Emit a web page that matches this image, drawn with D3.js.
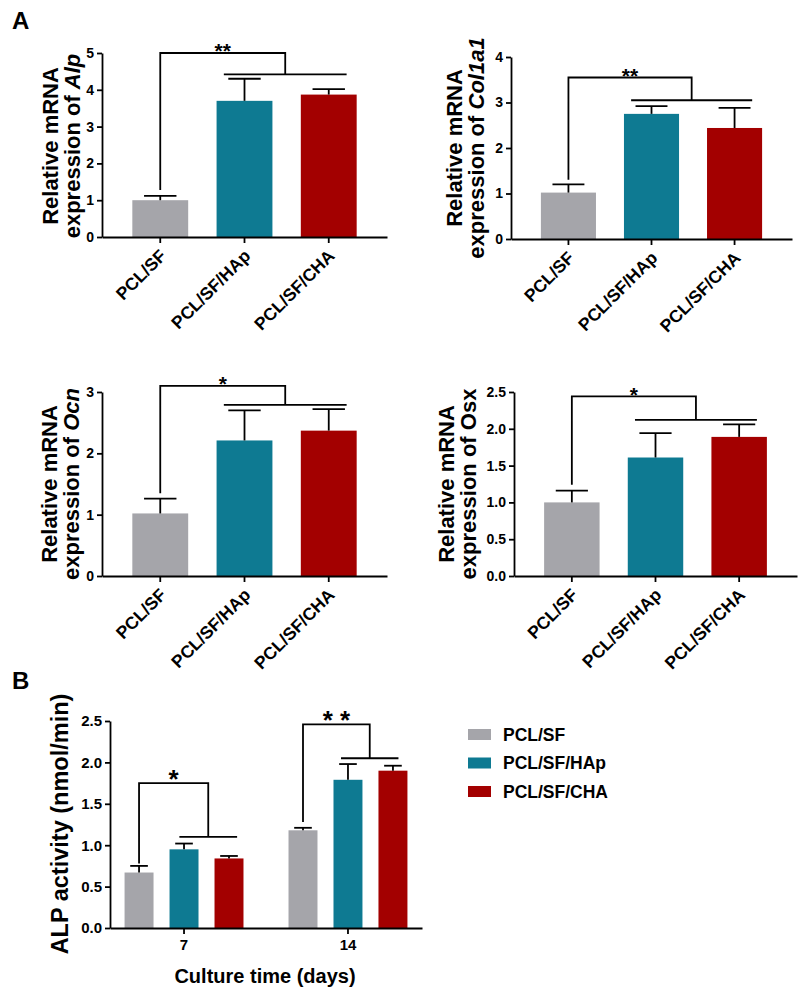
<!DOCTYPE html>
<html><head><meta charset="utf-8">
<script src="https://cdn.jsdelivr.net/npm/d3@7"></script>
<style>
body{margin:0;background:#fff}
svg{display:block}
text{font-family:"Liberation Sans",Arial,sans-serif;font-weight:bold;fill:#000}
</style>
</head><body>
<svg id="c" width="800" height="989"></svg>
<script>
// ---------- data ----------
const groups = ["PCL/SF", "PCL/SF/HAp", "PCL/SF/CHA"];
const groupColors = ["#a5a5aa", "#0e7a92", "#a30000"];

const alpMean = [1.00, 3.70, 3.87];
const alpErr = [0.12, 0.60, 0.15];
const alpTicks = [0, 1, 2, 3, 4, 5];
const alpSig = {top: 5.0, left: 1.28, low: 4.42, stars: "**"};

const col1a1Mean = [1.02, 2.75, 2.44];
const col1a1Err = [0.18, 0.17, 0.44];
const col1a1Ticks = [0, 1, 2, 3, 4];
const col1a1Sig = {top: 3.55, left: 1.30, low: 3.05, stars: "**"};

const ocnMean = [1.02, 2.21, 2.37];
const ocnErr = [0.24, 0.49, 0.35];
const ocnTicks = [0, 1, 2, 3];
const ocnSig = {top: 3.10, left: 1.35, low: 2.79, stars: "*"};

const osxMean = [1.00, 1.61, 1.89];
const osxErr = [0.16, 0.33, 0.17];
const osxTicks = [0, 0.5, 1.0, 1.5, 2.0, 2.5];
const osxSig = {top: 2.44, left: 1.24, low: 2.12, stars: "*"};

const days = ["7", "14"];
const alpDay7Mean = [0.67, 0.95, 0.84];
const alpDay7Err = [0.08, 0.07, 0.03];
const alpDay14Mean = [1.18, 1.79, 1.90];
const alpDay14Err = [0.03, 0.19, 0.06];
const activityTicks = [0, 0.5, 1.0, 1.5, 2.0, 2.5];
const day7Sig = {top: 1.75, left: 0.78, low: 1.10, stars: "*"};
const day14Sig = {top: 2.46, left: 1.28, low: 2.05, stars: "* *"};

// ---------- drawing ----------
const svg = d3.select("#c");
const LW = 1.8;

function styleAxis(g) {
  g.selectAll("path.domain").attr("stroke", "#000").attr("stroke-width", LW);
  g.selectAll(".tick line").attr("stroke", "#000").attr("stroke-width", LW);
  g.selectAll(".tick text").attr("fill", "#000");
}

function drawErr(g, cx, bw, y, m, e) {
  g.append("line").attr("x1", cx).attr("x2", cx).attr("y1", y(m)).attr("y2", y(m + e))
    .attr("stroke", "#000").attr("stroke-width", LW);
  g.append("line").attr("x1", cx - bw * 0.29).attr("x2", cx + bw * 0.29)
    .attr("y1", y(m + e)).attr("y2", y(m + e)).attr("stroke", "#000").attr("stroke-width", LW);
}

function drawSig(g, y, xg, xa, xb, sig, fs, off) {
  const xm = (xa + xb) / 2;
  const path = d3.path();
  path.moveTo(xg, y(sig.left)); path.lineTo(xg, y(sig.top));
  path.lineTo(xm, y(sig.top)); path.lineTo(xm, y(sig.low));
  path.moveTo(xa, y(sig.low)); path.lineTo(xb, y(sig.low));
  g.append("path").attr("d", path.toString()).attr("fill", "none")
    .attr("stroke", "#000").attr("stroke-width", LW);
  g.append("text").attr("x", (xg + xm) / 2).attr("y", y(sig.top) - off + 0.57 * fs)
    .attr("text-anchor", "middle").style("font-size", fs + "px").text(sig.stars);
}

function genePanel(cfg) {
  const g = svg.append("g");
  const x = d3.scaleBand().domain(groups).range([cfg.x0, cfg.x1])
    .paddingInner(0.337).paddingOuter(0.36);
  const y = d3.scaleLinear().domain([0, cfg.max]).range([cfg.yBot, cfg.yTop]);
  const bw = x.bandwidth();

  g.selectAll("rect.bar").data(groups).join("rect").attr("class", "bar")
    .attr("x", d => x(d)).attr("width", bw)
    .attr("y", (d, i) => y(cfg.mean[i])).attr("height", (d, i) => y(0) - y(cfg.mean[i]))
    .attr("fill", (d, i) => groupColors[i]);
  groups.forEach((d, i) => drawErr(g, x(d) + bw / 2, bw, y, cfg.mean[i], cfg.err[i]));

  const ya = g.append("g").attr("transform", `translate(${cfg.x0},0)`)
    .call(d3.axisLeft(y).tickValues(cfg.ticks).tickFormat(d3.format(cfg.fmt)).tickSize(5).tickSizeOuter(0).tickPadding(3));
  ya.selectAll(".tick text").style("font-size", "14px").style("font-family", null);
  styleAxis(ya);

  const xa = g.append("g").attr("transform", `translate(0,${cfg.yBot})`)
    .call(d3.axisBottom(x).tickSize(6).tickSizeOuter(0));
  xa.selectAll(".tick text").style("font-size", "17.5px").style("font-family", null)
    .attr("x", 0).attr("y", 0).attr("dy", 0).attr("text-anchor", "end")
    .attr("transform", "translate(7,20) rotate(-45)");
  styleAxis(xa);

  const cT = x(groups[1]) + bw / 2, cR = x(groups[2]) + bw / 2;
  drawSig(g, y, x(groups[0]) + bw / 2, cT - 0.37 * bw, cR + 0.32 * bw, cfg.sig, 21, 6.5);

  const lab = g.append("g");
  lab.append("text").attr("transform", `translate(${cfg.l1},${cfg.cy}) rotate(-90)`)
    .attr("text-anchor", "middle").style("font-size", "22px").text("Relative mRNA");
  const t2 = lab.append("text").attr("transform", `translate(${cfg.l2},${cfg.cy}) rotate(-90)`)
    .attr("text-anchor", "middle").style("font-size", "22px");
  t2.append("tspan").text("expression of ");
  t2.append("tspan").style("font-style", cfg.italic ? "italic" : "normal").text(cfg.gene);
}

genePanel({x0: 102, x1: 387, yTop: 53, yBot: 237, max: 5, ticks: alpTicks, fmt: "d",
  mean: alpMean, err: alpErr, sig: alpSig, gene: "Alp", italic: true, l1: 58, l2: 80, cy: 146});
genePanel({x0: 511, x1: 792, yTop: 57, yBot: 239, max: 4, ticks: col1a1Ticks, fmt: "d",
  mean: col1a1Mean, err: col1a1Err, sig: col1a1Sig, gene: "Col1a1", italic: true, l1: 462, l2: 484, cy: 148});
genePanel({x0: 102, x1: 387, yTop: 392, yBot: 576, max: 3, ticks: ocnTicks, fmt: "d",
  mean: ocnMean, err: ocnErr, sig: ocnSig, gene: "Ocn", italic: true, l1: 57, l2: 79, cy: 484});
genePanel({x0: 514, x1: 797, yTop: 392, yBot: 576, max: 2.5, ticks: osxTicks, fmt: ".1f",
  mean: osxMean, err: osxErr, sig: osxSig, gene: "Osx", italic: false, l1: 454, l2: 476, cy: 484});

// ---------- panel B ----------
(function () {
  const g = svg.append("g");
  const x0 = 110, x1 = 422, yTop = 721, yBot = 928;
  const xo = d3.scaleBand().domain(days).range([x0, x1]).paddingInner(0.177).paddingOuter(0.04);
  const xi = d3.scaleBand().domain(groups).range([0, xo.bandwidth()]).paddingInner(0.356).paddingOuter(0.178);
  const y = d3.scaleLinear().domain([0, 2.5]).range([yBot, yTop]);
  const bw = xi.bandwidth();
  const means = [alpDay7Mean, alpDay14Mean];
  const errs = [alpDay7Err, alpDay14Err];
  const sigs = [day7Sig, day14Sig];
  const tealOff = [0.16, 0.24], redOff = [0.28, 0.19];

  days.forEach((day, di) => {
    const gg = g.append("g");
    gg.selectAll("rect").data(groups).join("rect")
      .attr("x", d => xo(day) + xi(d)).attr("width", bw)
      .attr("y", (d, i) => y(means[di][i])).attr("height", (d, i) => y(0) - y(means[di][i]))
      .attr("fill", (d, i) => groupColors[i]);
    groups.forEach((d, i) => drawErr(gg, xo(day) + xi(d) + bw / 2, bw * 1.05, y, means[di][i], errs[di][i]));
    const cG = xo(day) + xi(groups[0]) + bw / 2;
    const cT = xo(day) + xi(groups[1]) + bw / 2;
    const cR = xo(day) + xi(groups[2]) + bw / 2;
    drawSig(gg, y, cG, cT - tealOff[di] * bw, cR + redOff[di] * bw, sigs[di], 26, 10);
  });

  const ya = g.append("g").attr("transform", `translate(${x0},0)`)
    .call(d3.axisLeft(y).tickValues(activityTicks).tickFormat(d3.format(".1f")).tickSize(5).tickSizeOuter(0).tickPadding(3));
  ya.selectAll(".tick text").style("font-size", "15px").style("font-family", null);
  styleAxis(ya);

  const xa = g.append("g").attr("transform", `translate(0,${yBot})`)
    .call(d3.axisBottom(xo).tickSize(6).tickSizeOuter(0).tickPadding(5));
  xa.selectAll(".tick text").style("font-size", "15px").style("font-family", null);
  styleAxis(xa);

  g.append("text").attr("transform", "translate(68,824) rotate(-90)").attr("text-anchor", "middle")
    .style("font-size", "23.5px").text("ALP activity (nmol/min)");
  g.append("text").attr("x", 265).attr("y", 983).attr("text-anchor", "middle")
    .style("font-size", "20px").text("Culture time (days)");

  const lg = g.append("g");
  groups.forEach((d, i) => {
    const cy = 734.5 + i * 28.5;
    lg.append("rect").attr("x", 468).attr("y", cy - 5.5).attr("width", 23).attr("height", 11).attr("fill", groupColors[i]);
    lg.append("text").attr("x", 503).attr("y", cy + 6).style("font-size", "17.5px").text(d);
  });
})();

svg.append("text").attr("x", 12).attr("y", 29).style("font-size", "24px").text("A");
svg.append("text").attr("x", 12).attr("y", 689).style("font-size", "24px").text("B");
</script>
</body></html>
